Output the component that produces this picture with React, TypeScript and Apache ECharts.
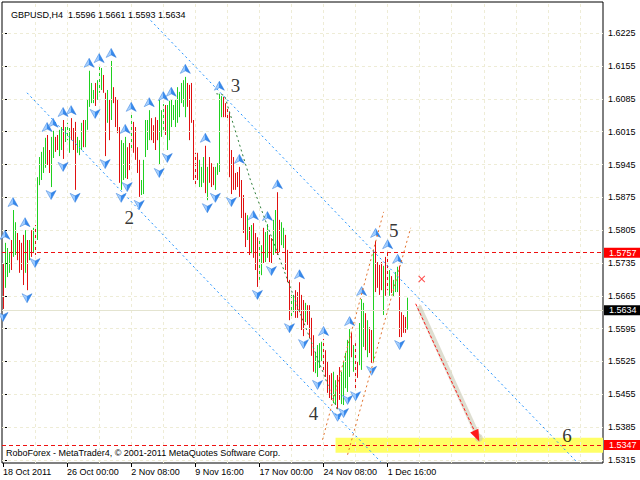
import { useEffect, useRef } from 'react';
import * as echarts from 'echarts';

const FONT = '"Liberation Sans", Arial, sans-serif';
const SERIF = '"Liberation Serif", "Times New Roman", serif';
const UP_COLOR = '#1fd01f';
const DOWN_COLOR = '#e01010';
const GRID_COLOR = '#eeecd6';

// H4 bars (price units)
const barHigh = [
  1.5735, 1.5778, 1.5767, 1.5756, 1.5784, 1.5848, 1.5822, 1.5799, 1.5784, 1.5778,
  1.5795, 1.5805, 1.5784, 1.5784, 1.5805, 1.5810, 1.5816, 1.5918, 1.5961, 1.5972,
  1.5982, 1.6002, 1.6008, 1.5976, 1.6004, 1.6017, 1.6004, 1.6008, 1.6019, 1.6025,
  1.6040, 1.6025, 1.6034, 1.6023, 1.6044, 1.6023, 1.6036, 1.6004, 1.5997, 1.6034,
  1.6040, 1.6040, 1.6083, 1.6145, 1.6119, 1.6104, 1.6119, 1.6125, 1.6155, 1.6151,
  1.6136, 1.6098, 1.6104, 1.6083, 1.6166, 1.6110, 1.6089, 1.6083, 1.6025, 1.5997,
  1.5991, 1.6004, 1.5982, 1.5991, 1.6051, 1.6036, 1.6025, 1.5982, 1.5955, 1.5912,
  1.5955, 1.6040, 1.6040, 1.6061, 1.6044, 1.6029, 1.6046, 1.6040, 1.6083, 1.6061,
  1.6074, 1.6072, 1.6072, 1.6081, 1.6083, 1.6072, 1.6083, 1.6110, 1.6100, 1.6119,
  1.6125, 1.6132, 1.6119, 1.6115, 1.6119, 1.6040, 1.5970, 1.5970, 1.5955, 1.5940,
  1.5961, 1.5985, 1.5940, 1.5961, 1.5948, 1.5940, 1.5940, 1.5948, 1.6096, 1.6091,
  1.6089, 1.6076, 1.6066, 1.6057, 1.5976, 1.5961, 1.5927, 1.5929, 1.5940, 1.5912,
  1.5880, 1.5842, 1.5837, 1.5812, 1.5816, 1.5820, 1.5799, 1.5790, 1.5784, 1.5773,
  1.5810, 1.5801, 1.5818, 1.5795, 1.5788, 1.5827, 1.5848, 1.5886, 1.5827, 1.5822,
  1.5810, 1.5795, 1.5763, 1.5699, 1.5671, 1.5667, 1.5677, 1.5673, 1.5694, 1.5667,
  1.5656, 1.5650, 1.5645, 1.5645, 1.5618, 1.5581, 1.5545, 1.5560, 1.5564, 1.5567,
  1.5573, 1.5549, 1.5524, 1.5496, 1.5500, 1.5503, 1.5485, 1.5496, 1.5513, 1.5503,
  1.5524, 1.5543, 1.5571, 1.5594, 1.5586, 1.5560, 1.5564, 1.5524, 1.5607, 1.5658,
  1.5650, 1.5628, 1.5613, 1.5598, 1.5592, 1.5763, 1.5782, 1.5737, 1.5731, 1.5737,
  1.5729, 1.5748, 1.5758, 1.5720, 1.5707, 1.5699, 1.5716, 1.5727, 1.5729, 1.5630,
  1.5624, 1.5620, 1.5661,
];

const barLow = [
  1.5637, 1.5682, 1.5705, 1.5714, 1.5720, 1.5748, 1.5752, 1.5741, 1.5714, 1.5720,
  1.5688, 1.5714, 1.5677, 1.5741, 1.5748, 1.5756, 1.5752, 1.5784, 1.5901, 1.5912,
  1.5927, 1.5938, 1.5944, 1.5927, 1.5897, 1.5959, 1.5972, 1.5976, 1.5963, 1.5976,
  1.5957, 1.5993, 1.5997, 1.5970, 1.5997, 1.5976, 1.5891, 1.5970, 1.5965, 1.5976,
  1.5982, 1.5982, 1.6019, 1.6068, 1.6076, 1.6076, 1.6070, 1.6083, 1.6098, 1.6104,
  1.6098, 1.5963, 1.6034, 1.5997, 1.6040, 1.6076, 1.6025, 1.6012, 1.5906, 1.5891,
  1.5912, 1.5916, 1.5914, 1.5933, 1.5976, 1.5970, 1.5955, 1.5927, 1.5876, 1.5880,
  1.5882, 1.5961, 1.5976, 1.5997, 1.5997, 1.5991, 1.5976, 1.5997, 1.5944, 1.6004,
  1.6019, 1.6008, 1.5976, 1.5997, 1.6025, 1.6040, 1.6025, 1.6034, 1.6046, 1.6076,
  1.6068, 1.6046, 1.6068, 1.5997, 1.6034, 1.5912, 1.5897, 1.5912, 1.5897, 1.5897,
  1.5906, 1.5884, 1.5869, 1.5906, 1.5897, 1.5901, 1.5891, 1.5923, 1.5929, 1.6046,
  1.6046, 1.6046, 1.6040, 1.5918, 1.5882, 1.5891, 1.5891, 1.5897, 1.5876, 1.5831,
  1.5799, 1.5769, 1.5784, 1.5752, 1.5756, 1.5746, 1.5720, 1.5684, 1.5699, 1.5709,
  1.5735, 1.5737, 1.5746, 1.5737, 1.5735, 1.5752, 1.5756, 1.5752, 1.5758, 1.5773,
  1.5767, 1.5720, 1.5694, 1.5613, 1.5618, 1.5630, 1.5618, 1.5618, 1.5630, 1.5592,
  1.5579, 1.5609, 1.5603, 1.5575, 1.5537, 1.5503, 1.5500, 1.5492, 1.5511, 1.5524,
  1.5503, 1.5492, 1.5458, 1.5447, 1.5443, 1.5436, 1.5432, 1.5424, 1.5443, 1.5434,
  1.5432, 1.5468, 1.5460, 1.5492, 1.5534, 1.5503, 1.5468, 1.5490, 1.5517, 1.5507,
  1.5556, 1.5549, 1.5534, 1.5543, 1.5522, 1.5524, 1.5673, 1.5682, 1.5667, 1.5677,
  1.5624, 1.5665, 1.5677, 1.5665, 1.5671, 1.5663, 1.5673, 1.5673, 1.5577, 1.5577,
  1.5586, 1.5586, 1.5593,
];

// u = bar closed up (green), d = bar closed down (red)
const barDir = [
  'duuuduuddd', 'dudududuuu', 'uudduudduu', 'duuuddduuu', 'duuuuuduuu',
  'ddududdddu', 'uudduddddu', 'uuuudddduu', 'uduuuuuuuu', 'uudddddduu',
  'ududdduuuu', 'dddddddddd', 'ddududdduu', 'duudduuddu', 'uddduudddd',
  'dudddduuuu', 'ddddduuddu', 'uuuududduu', 'ududdudddd', 'udduduuudd',
  'ddu',
].join('');

const upFractals = [1, 5, 11, 22, 25, 30, 34, 43, 48, 54, 61, 64, 73, 80, 84, 91, 101, 108, 118, 125, 132, 137, 148, 160, 173, 179, 186, 192, 197];
const downFractals = [0, 12, 16, 24, 30, 36, 46, 51, 59, 62, 68, 78, 82, 102, 106, 114, 127, 134, 143, 150, 157, 167, 170, 172, 176, 184, 198];

const timeLabels = ['18 Oct 2011', '26 Oct 00:00', '2 Nov 08:00', '9 Nov 16:00', '17 Nov 00:00', '24 Nov 08:00', '1 Dec 16:00'];
const LABEL_STEP = 32;
const GRID_STEP = 16;
const SLOT_COUNT = 300;

const yTicks = [1.5315, 1.5385, 1.5455, 1.5525, 1.5595, 1.5665, 1.5735, 1.5805, 1.5875, 1.5945, 1.6015, 1.6085, 1.6155, 1.6225];
const Y_MIN = 1.53084;
const Y_MAX = 1.62917;

const lastBar = { open: 1.5596, high: 1.5661, low: 1.5593, close: 1.5634 };
const levelPrices = [1.5757, 1.5347];
const bidPrice = 1.5634;

const upperChannel = [[72, 1.626], [287, 1.5308]];
const lowerChannel = [[12, 1.6098], [188.5, 1.5311]];
const wave34Line = [[106.5, 1.6096], [110.5, 1.6093], [123.5, 1.5912], [143.5, 1.5682], [167, 1.5421]];
const impulseLeft = [[159.5, 1.5358], [190, 1.5844]];
const impulseRight = [[172, 1.5326], [203.5, 1.581]];
const forecastArrow = [[206, 1.5648], [236.5, 1.5366]];
const forecastShadow = [[207.5, 1.5643], [237.5, 1.5362]];
const crossMark = [209, 1.5701];
const targetZone = [[166, 1.5362], [299.5, 1.533]];
const waveLabels: [string, number, number][] = [
  ['2', 63, 1.5831],
  ['3', 116, 1.6113],
  ['4', 155, 1.5415],
  ['5', 195, 1.5805],
  ['6', 281.5, 1.5366],
];

const UP_ARROW = 'path://M5,0L10,9L5,6.5L0,9Z';
const DOWN_ARROW = 'path://M0,0L5,2.5L10,0L5,9Z';
const CROSS = 'path://M0,1L1,0L5,4L9,0L10,1L6,5L10,9L9,10L5,6L1,10L0,9L4,5Z';

const arrowFill = {
  type: 'linear',
  x: 0,
  y: 0,
  x2: 1,
  y2: 0,
  colorStops: [
    { offset: 0, color: '#cfe6ff' },
    { offset: 0.5, color: '#8fc3ff' },
    { offset: 0.5, color: '#3d8ff0' },
    { offset: 1, color: '#2a7be0' },
  ],
};

function buildOption() {
  const xCategories = Array.from({ length: SLOT_COUNT }, (_, i) =>
    i % LABEL_STEP === 0 && i / LABEL_STEP < timeLabels.length ? timeLabels[i / LABEL_STEP] : ''
  );
  const showLabel = (idx: number) => idx % LABEL_STEP === 0 && idx / LABEL_STEP < timeLabels.length;
  const verticalGrid = Array.from({ length: Math.floor((SLOT_COUNT - 1) / GRID_STEP) }, (_, k) => (k + 1) * GRID_STEP);
  const bars = barHigh.map((h, i) => [i, barLow[i], h, barDir[i] === 'u' ? 1 : 0]);
  const fmt = (v: number) => v.toFixed(4);
  const title = `GBPUSD,H4  ${fmt(lastBar.open)} ${fmt(lastBar.high)} ${fmt(lastBar.low)} ${fmt(lastBar.close)}`;

  const priceTag = (v: number, bg: string) => ({
    show: true,
    position: 'end',
    distance: 1,
    formatter: () => fmt(v),
    color: '#fff',
    backgroundColor: bg,
    padding: [0, 4, 0, 5],
    lineHeight: 10,
    fontSize: 9,
    fontFamily: FONT,
  });

  const dotted = (color: string) => ({ color, width: 1, type: [2, 3] as any });

  return {
    animation: false,
    backgroundColor: '#ffffff',
    title: {
      text: title,
      left: 6,
      top: 5,
      textStyle: { fontSize: 9, fontWeight: 'normal', color: '#000', fontFamily: FONT },
    },
    graphic: [
      {
        type: 'text',
        left: 6,
        top: 448,
        z: 100,
        style: {
          text: 'RoboForex - MetaTrader4, \u00a9 2001-2011 MetaQuotes Software Corp.',
          fontSize: 9,
          fontFamily: FONT,
          fill: '#000',
        },
      },
    ],
    grid: {
      left: 2,
      top: 2,
      right: 37,
      bottom: 17,
      show: true,
      borderColor: '#000',
      borderWidth: 1,
      backgroundColor: '#fff',
    },
    xAxis: [
      {
        type: 'category',
        data: xCategories,
        boundaryGap: true,
        axisLine: { show: false },
        axisTick: { show: true, interval: showLabel, alignWithLabel: true, length: 4, lineStyle: { color: '#000' } },
        axisLabel: { interval: showLabel, align: 'left', fontSize: 9, color: '#000', fontFamily: FONT, margin: 4 },
        splitLine: { show: false },
      },
      { type: 'value', min: -0.5, max: SLOT_COUNT - 0.5, show: false, splitLine: { show: false } },
    ],
    yAxis: {
      type: 'value',
      position: 'right',
      min: Y_MIN,
      max: Y_MAX,
      axisLine: { show: false },
      axisTick: { show: true, length: 4, customValues: yTicks, lineStyle: { color: '#000' } },
      axisLabel: {
        customValues: yTicks,
        formatter: (v: number) => fmt(v),
        fontSize: 9,
        color: '#000',
        fontFamily: FONT,
        margin: 5,
      },
      splitLine: { show: false },
    },
    series: [
      {
        name: 'grid',
        type: 'line',
        xAxisIndex: 1,
        data: [],
        z: 1,
        silent: true,
        markLine: {
          silent: true,
          precision: 6,
          symbol: ['none', 'none'],
          label: { show: false },
          lineStyle: { color: GRID_COLOR, type: [3, 3], width: 1 },
          data: [...verticalGrid.map((v) => ({ xAxis: v })), ...yTicks.map((v) => ({ yAxis: v }))],
        },
      },
      {
        name: 'zone',
        type: 'line',
        xAxisIndex: 1,
        data: [],
        z: 2,
        silent: true,
        markArea: {
          silent: true,
          itemStyle: { color: '#ffff66' },
          data: [[{ xAxis: targetZone[0][0], yAxis: targetZone[0][1] }, { xAxis: targetZone[1][0], yAxis: targetZone[1][1] }]],
        },
      },
      {
        name: 'levels',
        type: 'line',
        xAxisIndex: 1,
        data: [],
        z: 3,
        silent: true,
        markLine: {
          silent: true,
          precision: 6,
          symbol: ['none', 'none'],
          data: [
            { yAxis: bidPrice, lineStyle: { color: '#e4e4d0', type: 'solid', width: 1 }, label: priceTag(bidPrice, '#000') },
            ...levelPrices.map((v) => ({
              yAxis: v,
              lineStyle: { color: '#ee1111', type: [4, 3], width: 1 },
              label: priceTag(v, '#ff0000'),
            })),
          ],
        },
      },
      {
        name: 'GBPUSD',
        type: 'custom',
        xAxisIndex: 0,
        yAxisIndex: 0,
        z: 4,
        silent: true,
        encode: { x: 0, y: [1, 2] },
        data: bars,
        renderItem: (_params: any, api: any) => {
          const i = api.value(0);
          const lo = api.coord([i, api.value(1)]);
          const hi = api.coord([i, api.value(2)]);
          const x = Math.floor(lo[0]) + 0.5;
          return {
            type: 'line',
            shape: { x1: x, y1: lo[1], x2: x, y2: hi[1] },
            style: { stroke: api.value(3) ? UP_COLOR : DOWN_COLOR, lineWidth: 1 },
          };
        },
      },
      {
        name: 'fractal up',
        type: 'scatter',
        xAxisIndex: 0,
        z: 5,
        silent: true,
        symbol: UP_ARROW,
        symbolSize: [10, 9],
        symbolOffset: [0, -8],
        itemStyle: { color: arrowFill as any, borderColor: '#2a78dc', borderWidth: 0.5, opacity: 1 },
        data: upFractals.map((i) => [i, barHigh[i]]),
      },
      {
        name: 'fractal down',
        type: 'scatter',
        xAxisIndex: 0,
        z: 5,
        silent: true,
        symbol: DOWN_ARROW,
        symbolSize: [10, 9],
        symbolOffset: [0, 8],
        itemStyle: { color: arrowFill as any, borderColor: '#2a78dc', borderWidth: 0.5, opacity: 1 },
        data: downFractals.map((i) => [i, barLow[i]]),
      },
      { type: 'line', xAxisIndex: 1, z: 6, silent: true, symbol: 'none', data: upperChannel, lineStyle: dotted('#1e90ff') },
      { type: 'line', xAxisIndex: 1, z: 6, silent: true, symbol: 'none', data: lowerChannel, lineStyle: dotted('#1e90ff') },
      { type: 'line', xAxisIndex: 1, z: 6, silent: true, symbol: 'none', data: wave34Line, lineStyle: dotted('#2e7d3a') },
      { type: 'line', xAxisIndex: 1, z: 6, silent: true, symbol: 'none', data: impulseLeft, lineStyle: dotted('#e0702a') },
      { type: 'line', xAxisIndex: 1, z: 6, silent: true, symbol: 'none', data: impulseRight, lineStyle: dotted('#e0702a') },
      {
        name: 'forecast',
        type: 'line',
        xAxisIndex: 1,
        data: [],
        z: 7,
        silent: true,
        markLine: {
          silent: true,
          precision: 6,
          label: { show: false },
          data: [
            [
              { coord: forecastShadow[0], symbol: 'none', lineStyle: { color: 'rgba(200,200,178,0.6)', width: 5, type: 'solid' } },
              { coord: forecastShadow[1], symbol: 'circle', symbolSize: 8 },
            ],
            [
              { coord: forecastArrow[0], symbol: 'none', lineStyle: { color: '#ff1a1a', width: 1, type: [3, 2] } },
              { coord: forecastArrow[1], symbol: 'triangle', symbolSize: [9, 12] },
            ],
          ],
        },
      },
      {
        name: 'cross',
        type: 'scatter',
        xAxisIndex: 1,
        z: 7,
        silent: true,
        symbol: CROSS,
        symbolSize: 7,
        itemStyle: { color: '#ff2222' },
        data: [crossMark],
      },
      {
        name: 'waves',
        type: 'scatter',
        xAxisIndex: 1,
        z: 8,
        silent: true,
        symbolSize: 1,
        itemStyle: { color: 'rgba(0,0,0,0)' },
        label: {
          show: true,
          position: 'inside',
          formatter: '{b}',
          fontFamily: SERIF,
          fontSize: 19,
          color: '#000',
        },
        data: waveLabels.map(([t, x, y]) => ({ name: t, value: [x, y] })),
      },
    ],
  };
}

export default function App() {
  const ref = useRef<HTMLDivElement>(null);
  useEffect(() => {
    if (!ref.current) return;
    const chart = echarts.init(ref.current, undefined, { renderer: 'svg' });
    chart.setOption(buildOption() as any);
    return () => chart.dispose();
  }, []);
  return (
    <div
      ref={ref}
      style={{ position: 'fixed', left: 0, top: 0, width: 640, height: 480, background: '#fff' }}
    />
  );
}
